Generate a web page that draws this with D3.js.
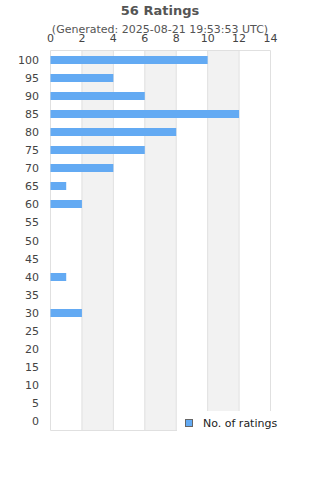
<!DOCTYPE html>
<html>
<head>
<meta charset="utf-8">
<script src="https://cdn.jsdelivr.net/npm/d3@7"></script>
<style>
  body { margin: 0; background: #fff; }
  svg { display: block; font-family: "DejaVu Sans", sans-serif; }
</style>
</head>
<body>
<svg id="chart" width="320" height="480"></svg>
<script>
var scores = ["100","95","90","85","80","75","70","65","60","55","50","45","40","35","30","25","20","15","10","5","0"];
var counts = [10, 4, 6, 12, 8, 6, 4, 1, 2, 0, 0, 0, 1, 0, 2, 0, 0, 0, 0, 0, 0];
var xTicks = [0, 2, 4, 6, 8, 10, 12, 14];
var title = "56 Ratings";
var subtitle = "(Generated: 2025-08-21 19:53:53 UTC)";
var seriesName = "No. of ratings";

function draw() {
	var svg = d3.select("#chart");
	var plotLeft = 50.5, plotRight = 270.5, plotTop = 50.5, plotBottom = 430.5;

	var x = d3.scaleLinear().domain([0, 14]).range([plotLeft, plotRight]);
	var y = d3.scaleBand().domain(scores).range([plotTop, plotBottom]);

	// alternating bands
	for (var i = 0; i < xTicks.length - 1; i++) {
		if (i % 2 === 1) {
			svg.append("rect")
				.attr("x", x(xTicks[i])).attr("y", plotTop)
				.attr("width", x(xTicks[i + 1]) - x(xTicks[i]))
				.attr("height", plotBottom - plotTop)
				.attr("fill", "#f2f2f2");
		}
	}

	// gridlines
	svg.selectAll("line.grid")
		.data(xTicks)
		.enter()
		.append("line")
		.attr("class", "grid")
		.attr("x1", d => x(d)).attr("x2", d => x(d))
		.attr("y1", plotTop).attr("y2", plotBottom)
		.attr("stroke", "#e0e0e0").attr("stroke-width", 1);

	svg.append("line")
		.attr("x1", plotLeft).attr("x2", plotRight).attr("y1", plotTop).attr("y2", plotTop)
		.attr("stroke", "#e0e0e0");
	svg.append("line")
		.attr("x1", plotLeft).attr("x2", plotRight).attr("y1", plotBottom).attr("y2", plotBottom)
		.attr("stroke", "#e0e0e0");

	// bars
	svg.selectAll("rect.bar")
		.data(counts)
		.enter()
		.append("rect")
		.attr("class", "bar")
		.attr("x", x(0))
		.attr("y", (d, i) => Math.round(y(scores[i]) + y.bandwidth() / 2 - 4))
		.attr("width", d => x(d) - x(0))
		.attr("height", 8)
		.attr("fill", "#63aaf3");

	// top axis labels
	svg.selectAll("text.xt")
		.data(xTicks)
		.enter()
		.append("text")
		.attr("class", "xt")
		.attr("x", d => x(d)).attr("y", 42)
		.attr("text-anchor", "middle")
		.attr("font-size", 11).attr("fill", "#444")
		.text(d => d);

	// y labels
	svg.selectAll("text.yt")
		.data(scores)
		.enter()
		.append("text")
		.attr("class", "yt")
		.attr("x", 39)
		.attr("y", d => y(d) + y.bandwidth() / 2 + 4)
		.attr("text-anchor", "end")
		.attr("font-size", 11).attr("fill", "#444")
		.text(d => d);

	// titles
	svg.append("text")
		.attr("x", 160).attr("y", 15)
		.attr("text-anchor", "middle")
		.attr("font-size", 13).attr("font-weight", "bold").attr("fill", "#555")
		.text(title);
	svg.append("text")
		.attr("x", 160).attr("y", 33)
		.attr("text-anchor", "middle")
		.attr("font-size", 11).attr("fill", "#555")
		.text(subtitle);

	// legend
	var legend = svg.append("g");
	legend.append("rect")
		.attr("x", 177).attr("y", 411).attr("width", 120).attr("height", 25)
		.attr("fill", "#fff");
	legend.append("rect")
		.attr("x", 185.5).attr("y", 419.5).attr("width", 7).attr("height", 7)
		.attr("fill", "#63aaf3").attr("stroke", "#666");
	legend.append("text")
		.attr("x", 203).attr("y", 427)
		.attr("font-size", 11).attr("fill", "#222")
		.text(seriesName);
}

draw();
</script>
</body>
</html>
